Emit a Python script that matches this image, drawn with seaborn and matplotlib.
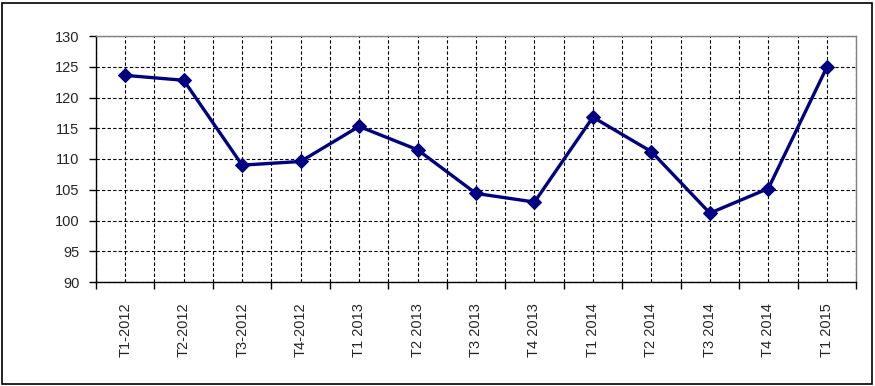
import matplotlib
matplotlib.use("Agg")
import matplotlib.pyplot as plt
from matplotlib.patches import Rectangle
from matplotlib.ticker import FixedLocator
import seaborn as sns
import pandas as pd

categories = ["T1-2012", "T2-2012", "T3-2012", "T4-2012", "T1 2013", "T2 2013",
              "T3 2013", "T4 2013", "T1 2014", "T2 2014", "T3 2014", "T4 2014", "T1 2015"]
values = [123.6, 122.8, 109.0, 109.6, 115.3, 111.5, 104.4, 103.0, 116.8, 111.2, 101.2, 105.2, 124.9]
y_ticks = [90, 95, 100, 105, 110, 115, 120, 125, 130]

sns.set_style("white")
plt.rcParams['font.family'] = ['Liberation Sans', 'DejaVu Sans']

df = pd.DataFrame({"cat": categories, "val": values})

fig = plt.figure(figsize=(8.75, 3.86), dpi=100)
ax = fig.add_axes([96/875, 1-282/386, (856-96)/875, (282-36)/386])

sns.lineplot(data=df, x="cat", y="val", ax=ax, color="#000080", linewidth=2.4,
             marker="D", markersize=7, markeredgecolor="#000080", sort=False, zorder=5)

n = len(categories)
ax.set_xlim(-0.5, n - 0.5)
ax.set_ylim(90, 130)
ax.set_yticks(y_ticks)
ax.set_yticklabels([str(t) for t in y_ticks], fontsize=10.5)
ax.set_xticks(range(n))
ax.set_xticklabels(categories, rotation=90, fontsize=10.5)
ax.xaxis.set_minor_locator(FixedLocator([i - 0.5 for i in range(n + 1)]))
ax.tick_params(axis='x', which='major', length=0, pad=15)
ax.tick_params(axis='x', which='minor', length=5, width=1, color='black', direction='out', bottom=True)
ax.tick_params(axis='y', which='major', length=5, width=1, color='black', direction='out', left=True, pad=7)
ax.set_xlabel("")
ax.set_ylabel("")

ax.grid(True, which='major', axis='both', color='black', linestyle=(0, (3, 2)), linewidth=0.8)
ax.grid(True, which='minor', axis='x', color='black', linestyle=(0, (3, 2)), linewidth=0.8)
ax.set_axisbelow(True)

for side in ['top', 'right']:
    ax.spines[side].set_color('#808080')
    ax.spines[side].set_linewidth(1)
for side in ['left', 'bottom']:
    ax.spines[side].set_color('black')
    ax.spines[side].set_linewidth(1)

fig.patches.append(Rectangle((1.5/875, 2.5/386), 870/875, 381/386, transform=fig.transFigure,
                             fill=False, edgecolor='black', linewidth=1.2))

fig.savefig("out.png", dpi=100, facecolor='white')
